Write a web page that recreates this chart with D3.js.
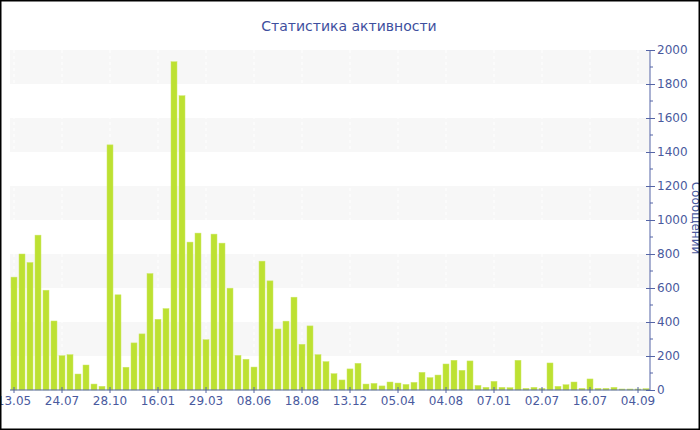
<!DOCTYPE html>
<html><head><meta charset="utf-8">
<script src="https://cdn.jsdelivr.net/npm/d3@7"></script>
<style>body{margin:0;background:#fff}svg{display:block}</style>
</head><body>
<svg id="c" width="700" height="430"></svg>
<script>
const title = "Статистика активности";
const yLabel = "Сообщений";
const values = [664,800,750,911,587,406,202,208,94,147,35,22,1442,560,134,277,330,685,416,479,
1931,1731,870,923,296,917,864,599,204,181,135,758,642,359,405,546,269,377,208,167,
96,59,124,157,35,39,24,47,41,33,45,104,73,88,153,175,116,171,27,16,
51,16,14,175,10,16,10,159,22,31,47,10,65,10,10,16,6,6,6,8];
const tickLabels = ["13.05","24.07","28.10","16.01","29.03","08.06","18.08","13.12","05.04","04.08","07.01","02.07","16.07","04.09"];
const tickEvery = 6;
const yTicks = [0,200,400,600,800,1000,1200,1400,1600,1800,2000];

(function(){
const svg = d3.select("#c");
const W=700,H=430, pL=10, pR=650, pT=50, pB=390;
const txt = "#4a5a9e";
const font = "DejaVu Sans, Verdana, sans-serif";

const idx = d3.range(values.length);
const x = d3.scaleBand().domain(idx).range([pL,pR]).paddingInner(0.25).paddingOuter(0.125);
const y = d3.scaleLinear().domain([0,2000]).range([pB,pT]);

const g = svg.append("g");
for (let i=0;i<yTicks.length-1;i++){
  if (i%2===1) g.append("rect").attr("x",pL).attr("width",pR-pL)
     .attr("y",y(yTicks[i+1])).attr("height",y(yTicks[i])-y(yTicks[i+1])).attr("fill","#f7f7f7");
}
const tickIdx = tickLabels.map((d,i)=>i*tickEvery);
g.selectAll("line.v").data(tickIdx).join("line")
  .attr("x1",d=>x(d)+x.bandwidth()/2).attr("x2",d=>x(d)+x.bandwidth()/2)
  .attr("y1",pT).attr("y2",pB).attr("stroke","#fff").attr("stroke-dasharray","3,3");

svg.append("g").selectAll("rect").data(values).join("rect")
  .attr("x",(d,i)=>x(i)).attr("width",x.bandwidth())
  .attr("y",d=>y(d)).attr("height",d=>pB-y(d))
  .attr("fill","#bde132").attr("stroke","#cde86a").attr("stroke-width",0.5);

const ya = svg.append("g").attr("transform",`translate(${pR},0)`)
  .call(d3.axisRight(y).tickValues(yTicks).tickFormat(d3.format("d")).tickSize(5).tickPadding(2));
ya.select(".domain").attr("stroke","#5565a6").attr("d",`M0,${pT}V${pB}`);
ya.selectAll(".tick line").attr("stroke","#5565a6").attr("x1",-4);
ya.selectAll("text").attr("fill",txt).style("font-family",font).style("font-size","12px");
svg.append("g").selectAll("line").data(d3.range(100,2000,200)).join("line")
  .attr("x1",pR).attr("x2",pR+3).attr("y1",d=>y(d)).attr("y2",d=>y(d)).attr("stroke","#5565a6");

const xa = svg.append("g").attr("transform",`translate(0,${pB})`)
  .call(d3.axisBottom(x).tickValues(tickIdx).tickFormat((d,i)=>tickLabels[i]).tickSize(3).tickPadding(3));
xa.select(".domain").attr("stroke","#5565a6").attr("d",`M${pL},0H${pR}`);
xa.selectAll(".tick line").attr("stroke","#5565a6").attr("y1",-3);
xa.selectAll("text").attr("fill",txt).style("font-family",font).style("font-size","12px");

svg.append("text").attr("x",349).attr("y",31).attr("text-anchor","middle")
  .attr("fill","#3e4f9e").style("font-family",font).style("font-size","14px").text(title);
svg.append("text").attr("transform",`translate(692,218) rotate(90)`).attr("text-anchor","middle")
  .attr("fill",txt).style("font-family",font).style("font-size","12px").text(yLabel);

svg.append("rect").attr("x",0.5).attr("y",0.5).attr("width",W-1).attr("height",H-1)
  .attr("fill","none").attr("stroke","#000").attr("stroke-width",2);
})();
</script>
</body></html>
